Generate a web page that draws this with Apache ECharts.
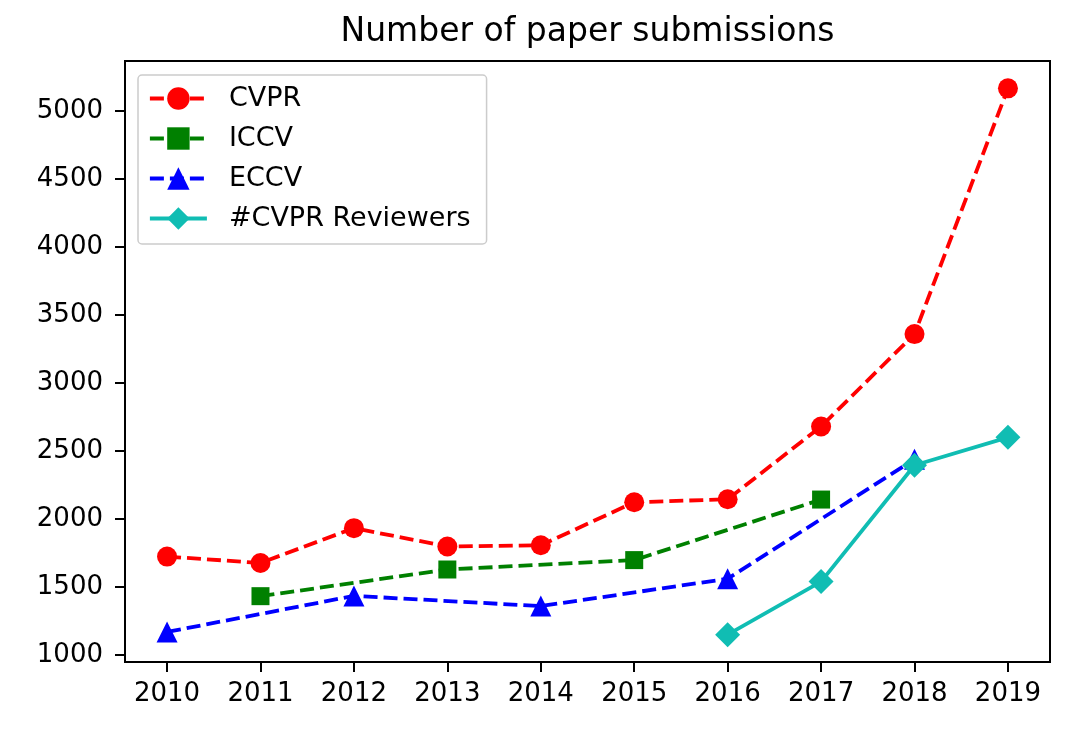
<!DOCTYPE html>
<html>
<head>
<meta charset="utf-8">
<script src="https://cdn.jsdelivr.net/npm/echarts@6/dist/echarts.min.js"></script>
<style>
html,body{margin:0;padding:0;background:#fff;}
#chart{width:1068px;height:737px;}
</style>
</head>
<body>
<div id="chart"></div>
<script>
const titleText = 'Number of paper submissions';
const yearTicks = [2010, 2011, 2012, 2013, 2014, 2015, 2016, 2017, 2018, 2019];
const yTicks = [1000, 1500, 2000, 2500, 3000, 3500, 4000, 4500, 5000];

const cvprYears = [2010, 2011, 2012, 2013, 2014, 2015, 2016, 2017, 2018, 2019];
const cvprValues = [1724, 1677, 1933, 1798, 1807, 2123, 2145, 2680, 3359, 5165];

const iccvYears = [2011, 2013, 2015, 2017];
const iccvValues = [1433, 1629, 1698, 2143];

const eccvYears = [2010, 2012, 2014, 2016, 2018];
const eccvValues = [1170, 1435, 1360, 1561, 2439];

const reviewerYears = [2016, 2017, 2018, 2019];
const reviewerValues = [1150, 1540, 2395, 2600];

function pairs(xs, ys) { return xs.map((x, i) => [x, ys[i]]); }

const FONT = 'DejaVu Sans';
const chart = echarts.init(document.getElementById('chart'), null, {renderer: 'canvas'});

const dashed = [14, 6];
function lineSeries(name, xs, ys, color, symbol, size, type) {
  return {
    name: name,
    type: 'line',
    data: pairs(xs, ys),
    symbol: symbol,
    symbolSize: size,
    showSymbol: true,
    animation: false,
    lineStyle: {color: color, width: 3.8, type: type},
    itemStyle: {color: color, borderColor: color, borderWidth: 0},
    emphasis: {disabled: true}
  };
}

chart.setOption({
  backgroundColor: '#ffffff',
  animation: false,
  title: {
    text: titleText,
    left: 587.5,
    top: 16,
    padding: 0,
    textAlign: 'center',
    textStyle: {fontFamily: FONT, fontSize: 33, fontWeight: 'normal', color: '#000'}
  },
  legend: {
    orient: 'vertical',
    left: 138,
    top: 75,
    padding: [10, 16, 12, 10],
    itemWidth: 57,
    itemHeight: 28,
    itemGap: 13,
    backgroundColor: 'rgba(255,255,255,0.9)',
    borderColor: '#cccccc',
    borderWidth: 1.5,
    borderRadius: 4,
    lineStyle: {width: 3.8},
    textStyle: {fontFamily: FONT, fontSize: 27, color: '#000', padding: [0, 0, 0, 17]},
    data: ['CVPR', 'ICCV', 'ECCV', '#CVPR Reviewers']
  },
  grid: {
    left: 125, right: 18, top: 61, bottom: 75,
    show: true, borderColor: '#000', borderWidth: 2, backgroundColor: 'transparent',
    containLabel: false
  },
  xAxis: {
    type: 'value',
    min: 2009.55,
    max: 2019.45,
    axisLine: {show: true, lineStyle: {color: '#000', width: 2}},
    axisTick: {show: true, length: 10, lineStyle: {color: '#000', width: 2}, customValues: yearTicks},
    axisLabel: {fontFamily: FONT, fontSize: 26, color: '#000', margin: 19, customValues: yearTicks,
      formatter: v => String(v)},
    splitLine: {show: false}
  },
  yAxis: {
    type: 'value',
    min: 949.25,
    max: 5365.75,
    axisLine: {show: true, lineStyle: {color: '#000', width: 2}},
    axisTick: {show: true, length: 10, lineStyle: {color: '#000', width: 2}, customValues: yTicks},
    axisLabel: {fontFamily: FONT, fontSize: 26, color: '#000', margin: 22, customValues: yTicks,
      formatter: v => String(v)},
    splitLine: {show: false}
  },
  series: [
    lineSeries('CVPR', cvprYears, cvprValues, '#ff0000', 'circle', 20, dashed),
    lineSeries('ICCV', iccvYears, iccvValues, '#008000', 'rect', 18, dashed),
    lineSeries('ECCV', eccvYears, eccvValues, '#0000ff', 'triangle', 21, dashed),
    lineSeries('#CVPR Reviewers', reviewerYears, reviewerValues, '#10bdb3', 'diamond', 25, 'solid')
  ]
});
</script>
</body>
</html>
